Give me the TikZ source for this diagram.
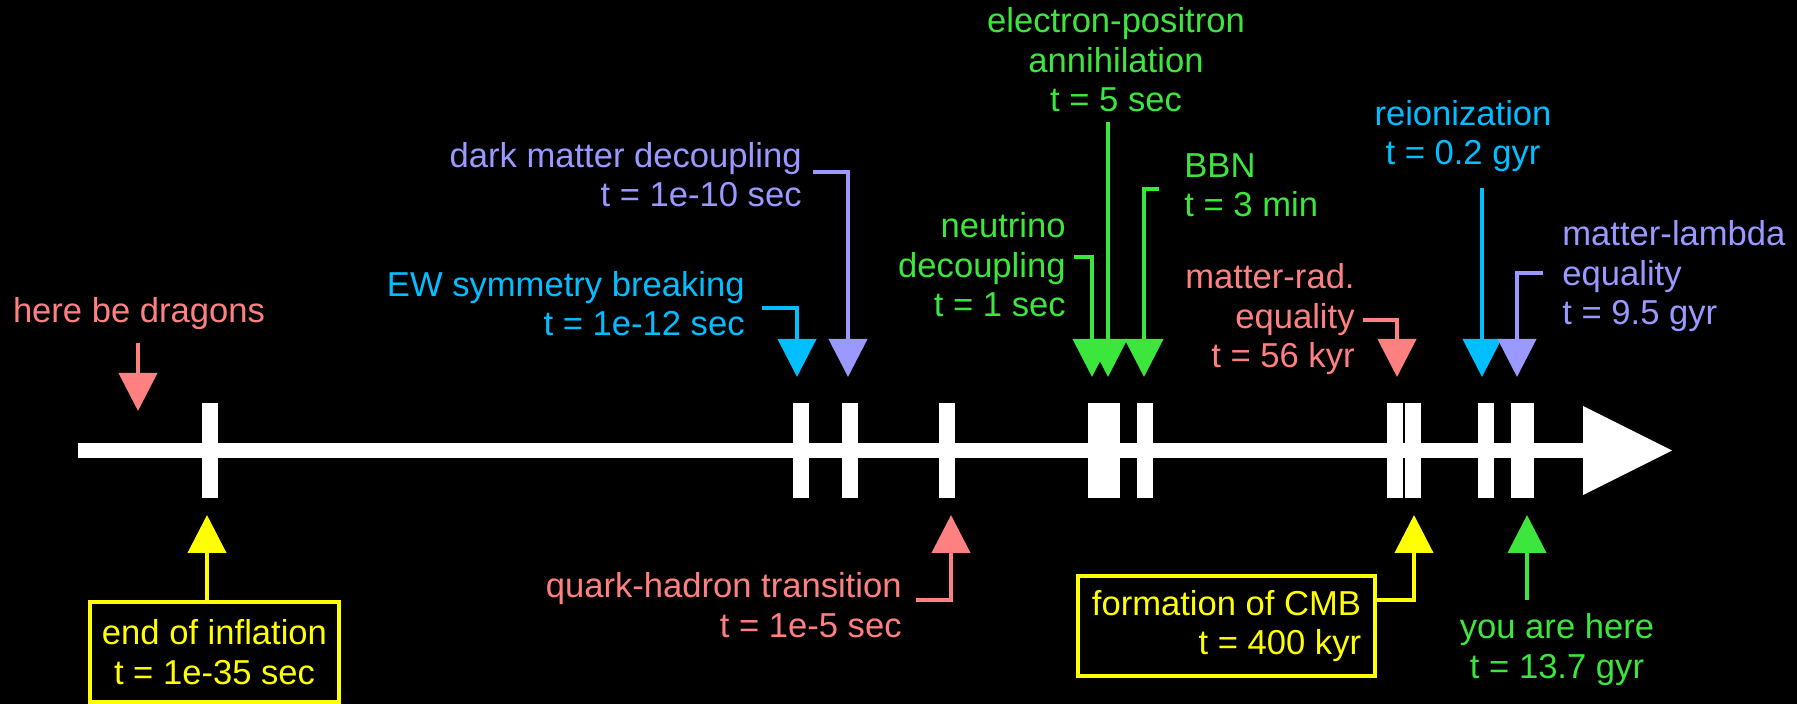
\documentclass[tikz,border=0pt]{standalone}
\usepackage{fontspec}
\setmainfont{Liberation Sans}
\usetikzlibrary{arrows.meta}
\definecolor{cred}{RGB}{255,128,128}
\definecolor{cblue}{RGB}{0,190,255}
\definecolor{cpurple}{RGB}{153,153,255}
\definecolor{cgreen}{RGB}{60,230,60}
\definecolor{cyellow}{RGB}{255,255,0}
\begin{document}
\begin{tikzpicture}[x=0.5pt,y=-0.5pt,
  lbl/.style={inner sep=0pt, font=\fontsize{17.3}{19.75}\selectfont},
  conn/.style={line width=2pt, -{Triangle[length=19pt,width=19pt]}},
  tickmark/.style={fill=white, draw=none, minimum width=8pt, minimum height=47.5pt, inner sep=0pt},
  evbox/.style={draw=cyellow, line width=1.75pt, text=cyellow, inner sep=0pt, minimum height=50pt, font=\fontsize{17.3}{19.75}\selectfont}
]
\useasboundingbox (0,0) rectangle (1797,704);
\fill[black] (0,0) rectangle (1797,704);
% axis
\fill[white] (78,443) rectangle (1583,458);
\fill[white] (1583,406) -- (1672,450.5) -- (1583,495) -- cycle;
% ticks
\node[tickmark] (tk1) at (210,450.5) {};
\node[tickmark] (tk2) at (801,450.5) {};
\node[tickmark] (tk3) at (849.5,450.5) {};
\node[tickmark] (tk4) at (947,450.5) {};
\node[tickmark, minimum width=16pt] (tk5) at (1104,450.5) {};
\node[tickmark] (tk6) at (1145,450.5) {};
\node[tickmark] (tk7) at (1395,450.5) {};
\node[tickmark] (tk8) at (1413,450.5) {};
\node[tickmark] (tk9) at (1486,450.5) {};
\node[tickmark, minimum width=11.5pt] (tk10) at (1522.5,450.5) {};
% labels (base anchor = baseline of the last line)
\node[lbl, text=cred, anchor=base] (dragons) at (139,323) {here be dragons};
\node[lbl, text=cblue, anchor=base east, align=right] (ew) at (745,336) {EW symmetry breaking\\t = 1e-12 sec};
\node[lbl, text=cpurple, anchor=base east, align=right] (dm) at (802,207) {dark matter decoupling\\t = 1e-10 sec};
\node[lbl, text=cred, anchor=base east, align=right] (qh) at (902,637) {quark-hadron transition\\t = 1e-5 sec};
\node[lbl, text=cgreen, anchor=base east, align=right] (nu) at (1066,317) {neutrino\\decoupling\\t = 1 sec};
\node[lbl, text=cgreen, anchor=base, align=center] (ep) at (1116,112) {electron-positron\\annihilation\\t = 5 sec};
\node[lbl, text=cgreen, anchor=base west, align=left] (bbn) at (1184,217) {BBN\\t = 3 min};
\node[lbl, text=cred, anchor=base east, align=right] (mr) at (1355,368) {matter-rad.\\equality\\t = 56 kyr};
\node[lbl, text=cblue, anchor=base, align=center] (re) at (1463,165) {reionization\\t = 0.2 gyr};
\node[lbl, text=cpurple, anchor=base west, align=left] (ml) at (1562,325) {matter-lambda\\equality\\t = 9.5 gyr};
\node[lbl, text=cgreen, anchor=base, align=center] (you) at (1557,678) {you are here\\t = 13.7 gyr};
\node[evbox, align=center, minimum width=124.5pt] (infl) at (214.5,652) {end of inflation\\t = 1e-35 sec};
\node[evbox, align=right, minimum width=148.5pt] (cmb) at (1226.5,626) {formation of CMB\\t = 400 kyr};
% connector points
\coordinate (drS) at (138,343); \coordinate (drT) at (138,411);
\coordinate (inT) at (207,515);
\coordinate (ewS) at (762,308); \coordinate (ewT) at (797,377);
\coordinate (dmS) at (813,172); \coordinate (dmT) at (848,377);
\coordinate (qhS) at (916,600); \coordinate (qhT) at (951,515);
\coordinate (nuS) at (1074,257); \coordinate (nuT) at (1092,377);
\coordinate (epS) at (1108,122); \coordinate (epT) at (1108,377);
\coordinate (bbS) at (1159,189); \coordinate (bbT) at (1144,377);
\coordinate (mrS) at (1363,320); \coordinate (mrT) at (1397,377);
\coordinate (cmS) at (1375,600); \coordinate (cmT) at (1414,515);
\coordinate (reS) at (1482,188); \coordinate (reT) at (1482,377);
\coordinate (mlS) at (1543,273); \coordinate (mlT) at (1517,377);
\coordinate (yoS) at (1527,600); \coordinate (yoT) at (1527,515);
% connectors
\draw[conn, cred] (drS) -- (drT);
\draw[conn, cyellow] (infl.north -| inT) -- (inT);
\draw[conn, cblue] (ewS) -| (ewT);
\draw[conn, cpurple] (dmS) -| (dmT);
\draw[conn, cred] (qhS) -| (qhT);
\draw[conn, cgreen] (nuS) -| (nuT);
\draw[conn, cgreen] (epS) -- (epT);
\draw[conn, cgreen] (bbS) -| (bbT);
\draw[conn, cred] (mrS) -| (mrT);
\draw[conn, cyellow] (cmS) -| (cmT);
\draw[conn, cblue] (reS) -- (reT);
\draw[conn, cpurple] (mlS) -| (mlT);
\draw[conn, cgreen] (yoS) -- (yoT);
\end{tikzpicture}
\end{document}
